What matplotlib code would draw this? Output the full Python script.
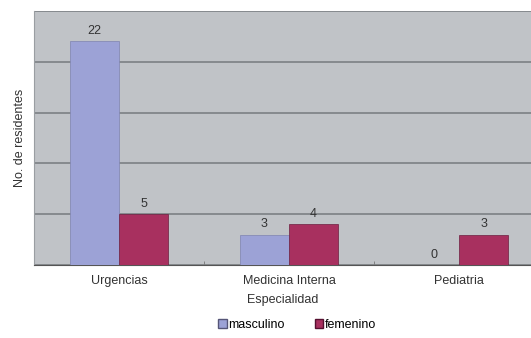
import matplotlib
matplotlib.use("Agg")
import matplotlib.pyplot as plt
import numpy as np
from matplotlib.patches import Patch

plt.rcParams['font.family'] = ['Liberation Sans', 'DejaVu Sans']

categories = ["Urgencias", "Medicina Interna", "Pediatria"]
masculino = [22, 3, 0]
femenino = [5, 4, 3]

c_m = "#9ca2d6"
c_f = "#a8305f"
fs = 9

fig = plt.figure(figsize=(5.31, 3.38), dpi=100)
ax = fig.add_axes([34/531, 1-265/338, 1-34/531, (265-11)/338])
ax.set_facecolor("#c0c3c7")
x = np.arange(len(categories))
w = 0.29
b1 = ax.bar(x - w/2, masculino, w, color=c_m, edgecolor="#7f84b0", linewidth=0.5, label="masculino", zorder=3)
b2 = ax.bar(x + w/2, femenino, w, color=c_f, edgecolor="#6e1e40", linewidth=0.5, label="femenino", zorder=3)
for bars, vals in ((b1, masculino), (b2, femenino)):
    for r, v in zip(bars, vals):
        ax.text(r.get_x() + r.get_width()/2, v + 0.4, str(v), ha="center", va="bottom",
                fontsize=fs, color="#333333", zorder=4)
ax.set_ylim(0, 25)
ax.set_xlim(-0.5, 2.5 - 13/170)
ax.set_yticks([0, 5, 10, 15, 20, 25])
ax.set_yticklabels([])
ax.tick_params(axis="y", length=0)
ax.yaxis.grid(True, color="#7c8084", linewidth=1.2, zorder=1)
ax.set_axisbelow(True)
ax.set_xticks([0.5, 1.5], minor=True)
ax.set_xticks(x)
ax.set_xticklabels(categories, fontsize=fs, color="#333333")
ax.tick_params(axis="x", which="major", length=0, pad=7)
ax.tick_params(axis="x", which="minor", length=3, color="#777777", direction="in")
for s in ("top", "right"):
    ax.spines[s].set_visible(False)
ax.spines["left"].set_color("#9a9ea2")
ax.spines["bottom"].set_color("#555555")
ax.set_xlabel("Especialidad", fontsize=fs, color="#333333", labelpad=5)
ax.set_ylabel("No. de residentes", fontsize=fs, color="#333333", labelpad=2)
handles = [Patch(facecolor=c_m, edgecolor="#555577", label="masculino"),
           Patch(facecolor=c_f, edgecolor="#551030", label="femenino")]
fig.legend(handles=handles, loc="center", bbox_to_anchor=(297/531, 1-325/338), ncol=2,
           frameon=False, fontsize=fs, handlelength=0.7, handleheight=0.7,
           handletextpad=0.1, columnspacing=2.4)
fig.savefig("out.png", dpi=100)
